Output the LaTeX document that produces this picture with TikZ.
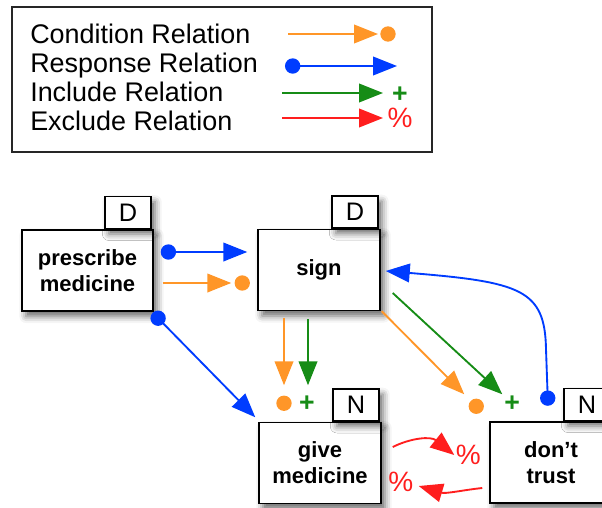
\documentclass[tikz,border=0pt]{standalone}
\usepackage{fontspec}
\setmainfont{Liberation Sans}
\usetikzlibrary{arrows.meta,calc,shadows.blur}
\definecolor{condcol}{RGB}{255,150,40}
\definecolor{respcol}{RGB}{0,60,255}
\definecolor{inclcol}{RGB}{22,140,22}
\definecolor{exclcol}{RGB}{255,30,30}
\tikzset{
  EventStyle/.style={draw=black,line width=1.1pt,fill=white,inner sep=0pt,
    minimum width=91.5pt,minimum height=60.75pt,align=center,
    font=\fontsize{16.5}{19.5}\selectfont\bfseries,
    blur shadow={shadow xshift=3pt,shadow yshift=-4pt,shadow blur radius=5pt,shadow opacity=60}},
  TabStyle/.style={draw=black,line width=1.1pt,fill=white,inner sep=0pt,
    minimum width=34.5pt,minimum height=24pt,anchor=south east,
    font=\fontsize{19}{19}\selectfont,
    blur shadow={shadow xshift=3pt,shadow yshift=-4pt,shadow blur radius=5pt,shadow opacity=60}},
  CondEdge/.style={condcol,line width=1.4pt,-{Triangle[length=18pt,width=14pt]}},
  RespEdge/.style={respcol,line width=1.4pt,{Circle[length=11.5pt]}-{Triangle[length=18pt,width=14pt]}},
  InclEdge/.style={inclcol,line width=1.4pt,-{Triangle[length=18pt,width=14pt]}},
  ExclEdge/.style={exclcol,line width=1.4pt,-{Triangle[length=18pt,width=14pt]}},
  CondDot/.style={circle,fill=condcol,inner sep=0pt,minimum size=11.5pt},
  InclMark/.style={inclcol,inner sep=0pt,font=\fontsize{20}{20}\selectfont\bfseries},
  ExclMark/.style={exclcol,inner sep=0pt,font=\fontsize{21}{21}\selectfont},
  LegendText/.style={anchor=base west,inner sep=0pt,font=\fontsize{20.2}{20}\selectfont}
}
\begin{document}
\begin{tikzpicture}[x=0.75pt,y=-0.75pt]
            \useasboundingbox (0,0) rectangle (602,507);
            \clip (0,0) rectangle (602,507);

            % legend
            \draw[line width=1.5pt,black!85] (12,7) rectangle (432,152);
            \node[LegendText] (legCondText) at (30,43) {Condition Relation};
            \node[LegendText] (legRespText) at (30,72) {Response Relation};
            \node[LegendText] (legInclText) at (30,101) {Include Relation};
            \node[LegendText] (legExclText) at (30,130) {Exclude Relation};

            \node[CondDot] (legCondDot) at (388,34) {};
            \node[InclMark] (legInclMark) at (400,94.5) {+};
            \node[ExclMark] (legExclMark) at (400,118) {\%};
            \coordinate (legCond) at (288,34);
            \coordinate (legResp) at (285,66);
            \coordinate (legRespEnd) at (397,66);
            \coordinate (legIncl) at (282,93);
            \coordinate (legExcl) at (282,118);
            \draw[CondEdge] (legCond) -- ($(legCondDot)+(-10,0)$);
            \draw[RespEdge] (legResp) -- (legRespEnd);
            \draw[InclEdge] (legIncl) -- ($(legInclMark)+(-17,-1.5)$);
            \draw[ExclEdge] (legExcl) -- ($(legExclMark)+(-17,0)$);

            % events
            \node[EventStyle,minimum width=98.25pt] (prescribe) at (87.5,270.5) {prescribe\\medicine};
            \node[EventStyle] (sign) at (319,270) {sign};
            \node[EventStyle] (give) at (320,463) {give\\medicine};
            \node[EventStyle] (trust) at (551,462.5) {don’t\\trust};

            \node[TabStyle] (prescribeTab) at ($(prescribe.north east)+(-2,0)$) {D};
            \node[TabStyle] (signTab) at ($(sign.north east)+(-2,0)$) {D};
            \node[TabStyle] (giveTab) at ($(give.north east)+(-2,0)$) {N};
            \node[TabStyle] (trustTab) at ($(trust.north east)+(-2,0)$) {N};

            % markers
            \node[CondDot] (signCond) at ($(sign.west)+(-15,13)$) {};
            \node[CondDot] (giveCond) at ($(give.north)+(-36,-18.5)$) {};
            \node[InclMark] (giveIncl) at ($(give.north)+(-13,-18.5)$) {+};
            \node[CondDot] (trustCond) at ($(trust.north west)+(-13,-15)$) {};
            \node[InclMark] (trustIncl) at ($(trust.north west)+(23,-18)$) {+};
            \node[ExclMark] (trustExcl) at ($(trust.west)+(-21,-7.5)$) {\%};
            \node[ExclMark] (giveExcl) at ($(give.east)+(19,19)$) {\%};

            % relations
            \draw[RespEdge] ($(prescribe.east)+(7,-18.5)$) -- ($(sign.west)+(-10,-18)$);
            \draw[CondEdge] ($(prescribe.east)+(9,12.5)$) -- ($(signCond)+(-11,0)$);
            \draw[RespEdge] ($(prescribe.south east)+(-1,1)$) -- ($(give.north west)+(-3,-4.5)$);
            \draw[CondEdge] ($(sign.south)+(-35,7)$) -- ($(giveCond)+(0,-18)$);
            \draw[InclEdge] ($(sign.south)+(-11,8)$) -- ($(giveIncl)+(1,-18)$);
            \draw[CondEdge] ($(sign.south east)+(1,0)$) -- ($(trustCond)+(-12,-12)$);
            \draw[InclEdge] ($(sign.east)+(12,23)$) -- ($(trustIncl)+(-10,-9)$);
            \draw[RespEdge] ($(trust.north)+(-3,-15.5)$) -- ($(trust.north)+(-5,-72)$)
               .. controls ($(trust.north)+(-6,-132)$) and ($(sign.east)+(140,12)$) .. ($(sign.east)+(5,1)$);
            \draw[ExclEdge] ($(give.east)+(11,-16)$) .. controls ($(give.east)+(29,-25)$) and ($(give.east)+(49,-27)$) .. ($(trustExcl)+(-14,0)$);
            \draw[ExclEdge] ($(trust.west)+(-7,25.5)$) .. controls ($(trust.west)+(-26,27.5)$) and ($(give.east)+(64,31)$) .. ($(giveExcl)+(18,4)$);
          \end{tikzpicture}
\end{document}
